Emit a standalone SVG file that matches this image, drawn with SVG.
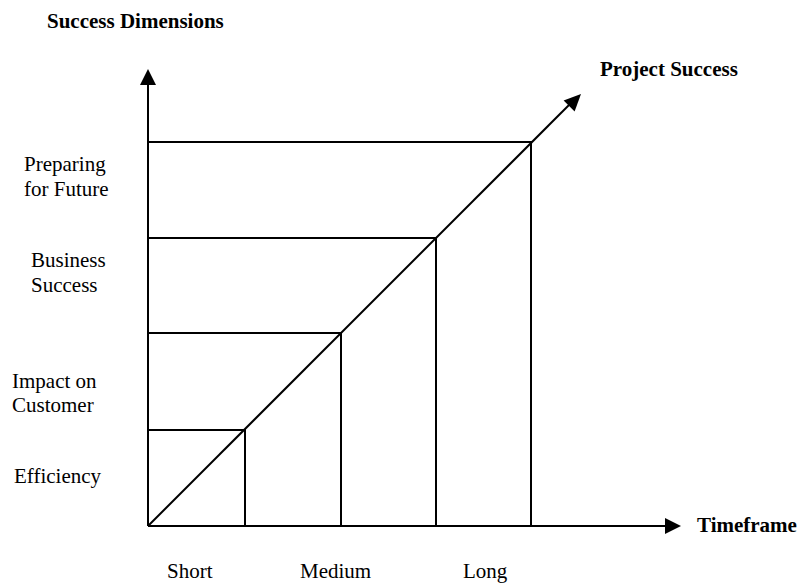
<svg xmlns="http://www.w3.org/2000/svg" width="799" height="584" viewBox="0 0 799 584">
  <style>
    .ln { stroke: #000; stroke-width: 2; fill: none; }
    .t { font-family: "Liberation Serif", "Times New Roman", serif; font-size: 21px; fill: #000; }
    .b { font-weight: bold; }
  </style>
  <rect width="799" height="584" fill="#fff"/>

  <!-- stepped rectangles between the axes and the diagonal -->
  <g id="steps" class="ln">
    <polyline points="148,430 245,430 245,526"/>
    <polyline points="148,333 341,333 341,526"/>
    <polyline points="148,238 436,238 436,526"/>
    <polyline points="148,142 531,142 531,526"/>
  </g>

  <!-- axes and diagonal with filled arrowheads -->
  <g id="connectors">
    <path class="ln" d="M148,526 L148,80"/>
    <path d="M148,69 L140,85 L156,85 Z" fill="#000"/>
    <path class="ln" d="M148,526 L670,526"/>
    <path d="M681,526 L665,518 L665,534 Z" fill="#000"/>
    <path class="ln" d="M148,526 L572,102"/>
    <path d="M581,94 L574.6,111.4 L563.6,100.4 Z" fill="#000"/>
  </g>

  <g id="axis-titles">
    <text class="t b" x="47" y="28">Success Dimensions</text>
    <text class="t b" x="600" y="76">Project Success</text>
    <text class="t b" x="697" y="532">Timeframe</text>
  </g>

  <g id="dimensions">
    <text class="t" x="24" y="171">Preparing</text>
    <text class="t" x="24" y="196">for Future</text>
    <text class="t" x="31" y="267">Business</text>
    <text class="t" x="31" y="292">Success</text>
    <text class="t" x="12" y="388">Impact on</text>
    <text class="t" x="12" y="412">Customer</text>
    <text class="t" x="14" y="483">Efficiency</text>
  </g>

  <g id="timeframes">
    <text class="t" x="167" y="578">Short</text>
    <text class="t" x="300" y="578">Medium</text>
    <text class="t" x="463" y="578">Long</text>
  </g>
</svg>
